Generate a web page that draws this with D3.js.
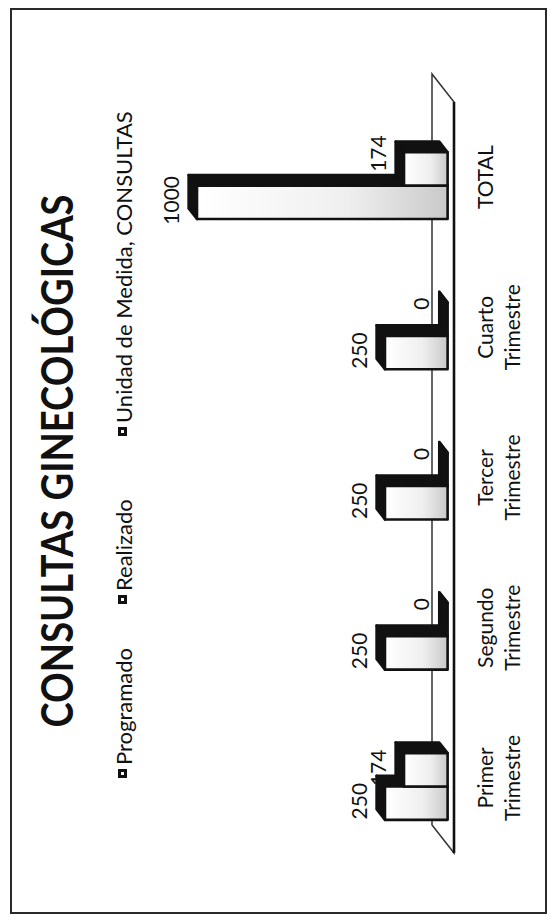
<!DOCTYPE html>
<html>
<head>
<meta charset="utf-8">
<script src="https://cdn.jsdelivr.net/npm/d3@7"></script>
<style>
  html, body { margin: 0; padding: 0; background: #fff; }
  svg { display: block; }
  text { font-family: Lato, "Open Sans", sans-serif; fill: #111; }
</style>
</head>
<body>
<script>
// ---- data ----
const categories = ["Primer Trimestre", "Segundo Trimestre", "Tercer Trimestre", "Cuarto Trimestre", "TOTAL"];
const seriesNames = ["Programado", "Realizado", "Unidad de Medida, CONSULTAS"];
const programado = [250, 250, 250, 250, 1000];
const realizado = [174, 0, 0, 0, 174];
const unidadMedida = [null, null, null, null, null];
const titleText = "CONSULTAS GINECOLÓGICAS";

const W = 556, H = 920;
const svg = d3.select("body").append("svg").attr("width", W).attr("height", H);

const defs = svg.append("defs");
const grad = defs.append("linearGradient").attr("id", "faceFill")
  .attr("x1", 0).attr("y1", 0).attr("x2", 0).attr("y2", 1);
grad.append("stop").attr("offset", "0%").attr("stop-color", "#ffffff");
grad.append("stop").attr("offset", "60%").attr("stop-color", "#efefef");
grad.append("stop").attr("offset", "100%").attr("stop-color", "#c9c9c9");

// outer frame
svg.append("rect")
  .attr("x", 11).attr("y", 9).attr("width", 535).attr("height", 904)
  .attr("fill", "none").attr("stroke", "#2a2a2a").attr("stroke-width", 2);

// the chart is laid out landscape and turned a quarter turn counter-clockwise
const g = svg.append("g").attr("transform", `translate(0,${H}) rotate(-90)`);

// ---- 3D geometry ----
const floorFront = 454;              // front edge of the floor
const floorDepth = [28, -22];        // front -> back of the floor
const x = d3.scaleBand().domain(categories).range([67, 818]);
const slot = x.bandwidth() / 4.5;    // 3 series + 150% gap
const barOff = 0.29, barDepthFrac = 0.38;
const bShift = [floorDepth[0] * barOff, floorDepth[1] * barOff];
const bd = [floorDepth[0] * barDepthFrac, floorDepth[1] * barDepthFrac];
const base = floorFront + bShift[1];
const y = d3.scaleLinear().domain([0, 1000]).range([base, 197]);

// floor
const fx0 = x.range()[0], fx1 = x.range()[1];
g.append("path")
  .attr("d", `M${fx0},${floorFront} L${fx1},${floorFront} L${fx1 + floorDepth[0]},${floorFront + floorDepth[1]} L${fx0 + floorDepth[0]},${floorFront + floorDepth[1]} Z`)
  .attr("fill", "#fff").attr("stroke", "#333").attr("stroke-width", 1.5);
g.append("line")
  .attr("x1", fx0).attr("x2", fx1).attr("y1", floorFront).attr("y2", floorFront)
  .attr("stroke", "#111").attr("stroke-width", 2.6);

// bars
const seriesValues = [programado, realizado, unidadMedida];
const bars = [];
categories.forEach((c, i) => {
  seriesValues.forEach((arr, s) => {
    const v = arr[i];
    if (v == null) return;
    const x0 = x(c) + slot * (0.75 + s) + bShift[0];
    bars.push({ c, s, v, x0, x1: x0 + slot, yt: y(v) });
  });
});

const barG = g.append("g").selectAll("g").data(bars).join("g");
function outline(sel) {
  return sel.attr("stroke", "#111").attr("stroke-width", 2.6).attr("stroke-linejoin", "round");
}

outline(barG.append("path")
  .attr("d", d => `M${d.x1},${d.yt} L${d.x1},${base} L${d.x1 + bd[0]},${base + bd[1]} L${d.x1 + bd[0]},${d.yt + bd[1]} Z`)
  .attr("fill", "#111"));
outline(barG.append("path")
  .attr("d", d => `M${d.x0},${d.yt} L${d.x1},${d.yt} L${d.x1 + bd[0]},${d.yt + bd[1]} L${d.x0 + bd[0]},${d.yt + bd[1]} Z`)
  .attr("fill", "#111"));
outline(barG.filter(d => d.v > 0).append("rect")
  .attr("x", d => d.x0).attr("y", d => d.yt)
  .attr("width", d => d.x1 - d.x0).attr("height", d => base - d.yt)
  .attr("fill", "url(#faceFill)"));

// value labels, in their own layer; a label that would sit against the
// side face of a taller neighbour is pushed clear of it
const labelW = 35, labelH = 15;
bars.forEach(d => {
  d.lx = (d.x0 + d.x1) / 2 + 2;
  d.ly = d.yt + bd[1] - 10;
  const prev = bars.find(b => b.c === d.c && b.s === d.s - 1);
  if (prev && prev.yt + bd[1] < d.ly - labelH) {
    const minLeft = d.x0 + bd[0] + 4;
    if (d.lx - labelW / 2 < minLeft) d.lx = minLeft + labelW / 2;
  }
});
g.append("g").selectAll("text").data(bars).join("text")
  .attr("x", d => d.lx)
  .attr("y", d => d.ly)
  .attr("text-anchor", "middle")
  .attr("font-size", 21)
  .text(d => d.v);

// category labels
const catG = g.append("g").selectAll("text").data(categories).join("text")
  .attr("text-anchor", "middle")
  .attr("font-size", 21)
  .attr("transform", c => `translate(${x(c) + x.bandwidth() / 2},493)`);
catG.selectAll("tspan").data(c => c.split(" ")).join("tspan")
  .attr("x", 0).attr("dy", (d, k) => k === 0 ? 0 : 27)
  .text(d => d);

// title
g.append("text")
  .attr("x", 459).attr("y", 73)
  .attr("text-anchor", "middle")
  .attr("font-size", 43).attr("font-weight", 700)
  .attr("textLength", 533).attr("lengthAdjust", "spacingAndGlyphs")
  .text(titleText);

// legend
const legendX = [142, 316, 484];
const lg = g.append("g").selectAll("g").data(seriesNames).join("g")
  .attr("transform", (d, i) => `translate(${legendX[i]},0)`);
lg.append("rect").attr("x", 0).attr("y", 118).attr("width", 9).attr("height", 9).attr("fill", "#111");
lg.append("rect").attr("x", 3).attr("y", 121).attr("width", 3).attr("height", 3).attr("fill", "#fff");
lg.append("text").attr("x", 13).attr("y", 132).attr("font-size", 22).text(d => d);
</script>
</body>
</html>
